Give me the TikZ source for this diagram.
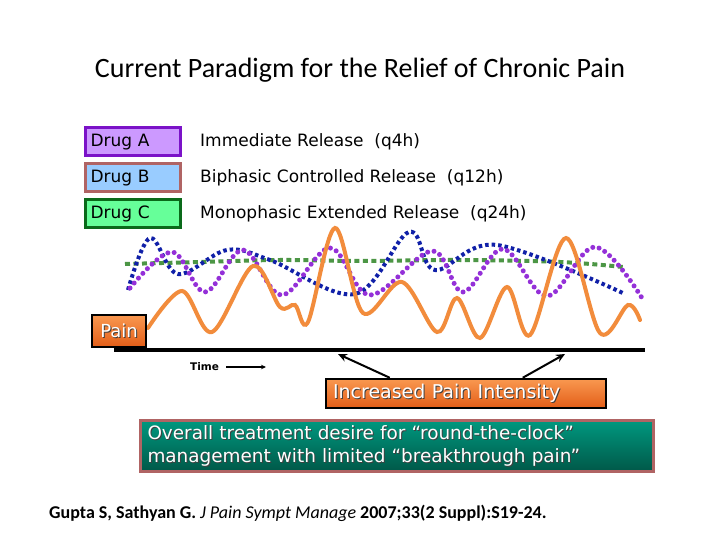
\documentclass[tikz,border=0pt]{standalone}
\usepackage{fontspec}
\setmainfont{Carlito}
\newfontfamily\vfont{DejaVu Sans}
\usetikzlibrary{arrows.meta}
\definecolor{purpA}{HTML}{7B12C8}
\definecolor{fillA}{HTML}{CC99FF}
\definecolor{rosyB}{HTML}{B06464}
\definecolor{fillB}{HTML}{99CCFF}
\definecolor{greenC}{HTML}{0A6A1A}
\definecolor{fillC}{HTML}{66FF99}
\definecolor{painor}{HTML}{F28C3C}
\definecolor{dotblue}{HTML}{1020A8}
\definecolor{dotpurp}{HTML}{9430D8}
\definecolor{dotgreen}{HTML}{4C9645}
\definecolor{boxtop}{HTML}{F99850}
\definecolor{boxbot}{HTML}{E35E18}
\definecolor{tealtop}{HTML}{00987F}
\definecolor{tealbot}{HTML}{005848}
\newcommand\shadtxt[1]{\leavevmode\rlap{\kern1pt\raisebox{-1pt}{\color{black!75}#1}}{\color{white}#1}}
\begin{document}
\begin{tikzpicture}[x=1pt,y=-1pt,
  drugbox/.style={draw, line width=3pt, minimum width=95pt, minimum height=28pt, text width=85pt, inner xsep=5pt, align=left, font=\vfont\fontsize{17}{19}\selectfont},
  druglabel/.style={anchor=west, inner sep=0pt, font=\vfont\fontsize{17}{19}\selectfont},
  orangebox/.style={draw=black, line width=2.5pt, top color=boxtop, bottom color=boxbot},
  pointer/.style={line width=2pt, -{Stealth[length=9pt,width=8pt]}}
]
\useasboundingbox (0,0) rectangle (720,540);
\fill[white] (0,0) rectangle (720,540);

\node[font=\fontsize{28}{32}\selectfont, inner sep=0pt] (title) at (360,70) {Current Paradigm for the Relief of Chronic Pain};

\node[drugbox, draw=purpA, fill=fillA] (da) at (133,142) {Drug A};
\node[drugbox, draw=rosyB, fill=fillB] (db) at (133,178) {Drug B};
\node[drugbox, draw=greenC, fill=fillC] (dc) at (133,214) {Drug C};
\node[druglabel] (la) at (200,142) {Immediate Release\ \ (q4h)};
\node[druglabel] (lb) at (200,178) {Biphasic Controlled Release\ \ (q12h)};
\node[druglabel] (lc) at (200,214) {Monophasic Extended Release\ \ (q24h)};

% Drug C (green)
\draw[dotgreen, line width=4pt, dash pattern=on 5pt off 3.5pt]
  plot[smooth, tension=0.6] coordinates {(125,264) (200,262) (280,260) (360,261) (460,260) (560,262) (623,267)};
% Drug B (blue)
\draw[dotblue, line width=4pt, dash pattern=on 3.5pt off 3pt]
  plot[smooth, tension=0.6] coordinates {(128,290) (150,238) (178,274) (227,250) (270,260) (355,294) (409,232) (435,270) (497,245) (625,294)};
% Drug A (purple)
\draw[dotpurp, line width=5pt, line cap=round, dash pattern=on 0pt off 6.5pt]
  plot[smooth, tension=0.6] coordinates {(130,288) (172,252) (205,292) (243,250) (282,295) (330,248) (370,295) (432,251) (463,292) (503,249) (547,296) (595,247) (642,298)};
% Pain
\draw[painor, line width=4pt, line cap=round]
  plot[smooth, tension=0.55] coordinates {(148,328) (182,291) (212,332) (253,266) (280,307) (295,305) (308,322) (335,228) (363,313) (402,282) (437,332) (457,298) (480,338) (507,287) (530,335) (566,238) (600,333) (628,305) (640,320)};

\node[orangebox, minimum width=54pt, minimum height=32pt, inner sep=0pt, font=\vfont\fontsize{18}{20}\selectfont] (pain) at (119,331) {\shadtxt{Pain}};

\coordinate (axL) at (114,350);
\coordinate (axR) at (645,350);
\draw[line width=3.5pt] (axL) -- (axR);

\node[anchor=west, inner sep=0pt, font=\vfont\bfseries\fontsize{10.5}{12}\selectfont] (time) at (190,367) {Time};
\coordinate (timeEnd) at (266,367);
\draw[line width=1.2pt, -{Stealth[length=5pt,width=4.5pt]}] ([xshift=7pt]time.east) -- (timeEnd);

\node[orangebox, minimum width=280pt, minimum height=29pt, text width=266pt, inner xsep=7pt, inner ysep=0pt, align=left, font=\vfont\fontsize{19}{21}\selectfont] (ipi) at (466,393.5) {\shadtxt{Increased Pain Intensity}};
\coordinate (ptL) at (338,354);
\coordinate (ptR) at (565,354);
\draw[pointer] ([xshift=65pt]ipi.north west) -- (ptL);
\draw[pointer] ([xshift=198pt]ipi.north west) -- (ptR);

\node[draw=rosyB, line width=3pt, top color=tealtop, bottom color=tealbot, minimum width=513pt, minimum height=51pt, text width=499pt, inner xsep=7pt, align=left, font=\vfont\fontsize{18.4}{23}\selectfont] (goal) at (397,446)
  {\shadtxt{Overall treatment desire for “round-the-clock”}\\\shadtxt{management with limited “breakthrough pain”}};

\node[anchor=west, inner sep=0pt, font=\bfseries\fontsize{18}{21}\selectfont] (ref) at (49,513) {Gupta S, Sathyan G. \textit{\mdseries J Pain Sympt Manage} 2007;33(2 Suppl):S19-24.};
\end{tikzpicture}
\end{document}
